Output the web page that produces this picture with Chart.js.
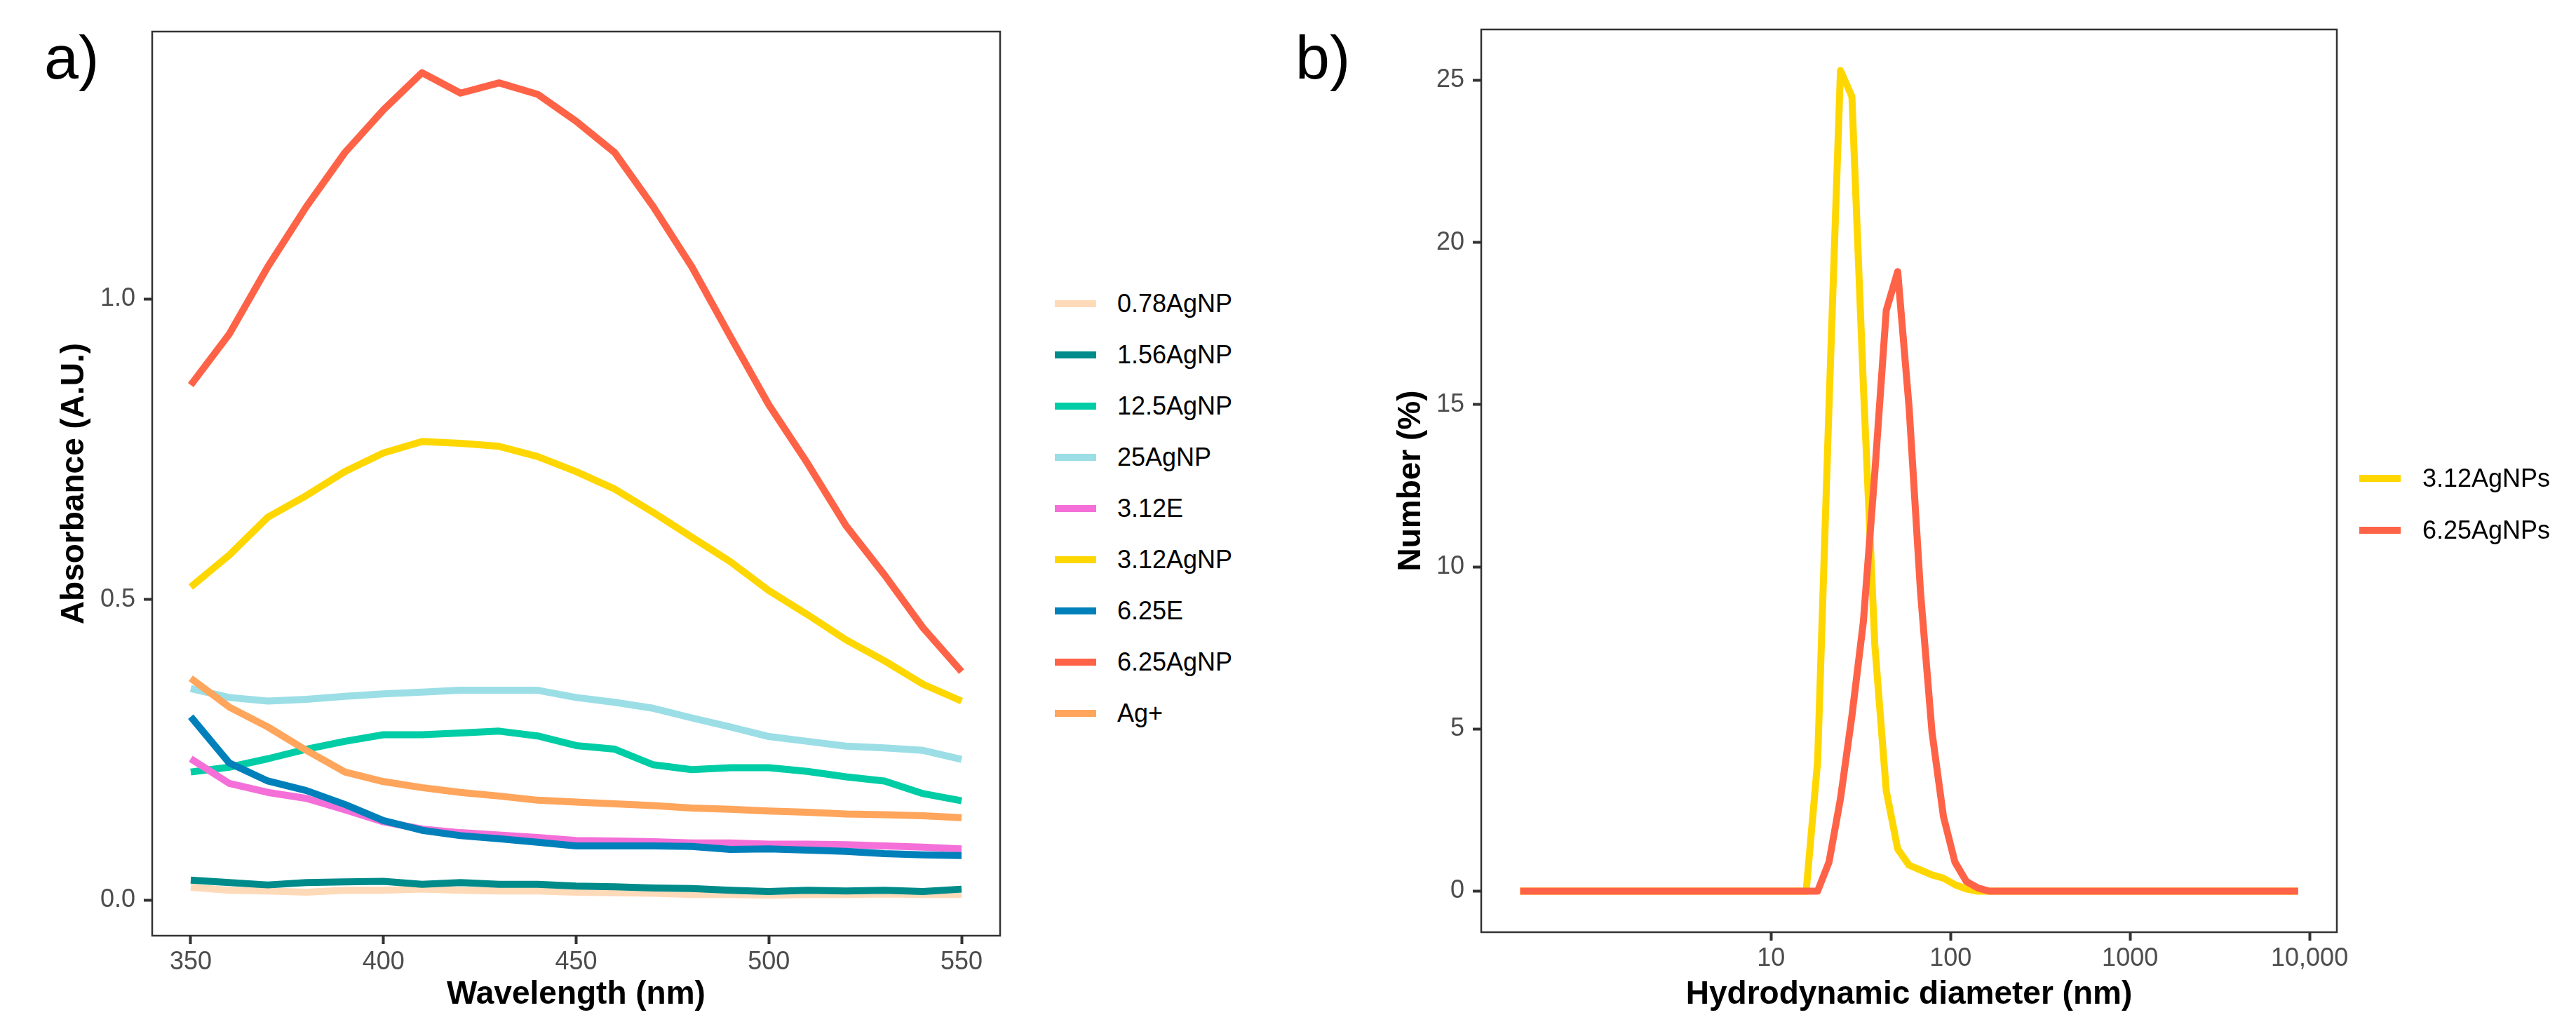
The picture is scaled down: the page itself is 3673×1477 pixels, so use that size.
<!DOCTYPE html>
<html>
<head>
<meta charset="utf-8">
<title>AgNP absorbance and DLS</title>
<script src="https://cdn.jsdelivr.net/npm/chart.js@4.4.0/dist/chart.umd.min.js"></script>
<style>
    body { margin: 0; background: #fff; }
    #page { position: relative; width: 3673px; height: 1477px; font-family: 'Liberation Sans', Arial, sans-serif; }
    canvas { position: absolute; top: 0; }
    .tag { position: absolute; top: 38px; font-size: 88px; line-height: 1; color: #000; }
    .legend-item { position: absolute; height: 0; white-space: nowrap; }
    .swatch { position: absolute; left: 0; top: -5px; width: 59px; height: 10px; }
    .legend-text { position: absolute; top: -20px; font-size: 36px; line-height: 40px; color: #000; }
</style>
</head>
<body>
<div id="page">
    <canvas id="uvChart" width="1480" height="1477" style="left:0"></canvas>
    <canvas id="dlsChart" width="1873" height="1477" style="left:1800px"></canvas>
    <div class="tag" style="left:63px">a)</div>
    <div class="tag" style="left:1847px">b)</div>
    <div id="uvLegend"></div>
    <div id="dlsLegend"></div>
</div>
<script>
// ---- Panel a: UV-vis absorbance ----
const wavelengths = [350, 360, 370, 380, 390, 400, 410, 420, 430, 440, 450,
                     460, 470, 480, 490, 500, 510, 520, 530, 540, 550];

const uvLabels = ['0.78AgNP', '1.56AgNP', '12.5AgNP', '25AgNP', '3.12E',
                  '3.12AgNP', '6.25E', '6.25AgNP', 'Ag+'];
const uvColors = ['#FFDAB9', '#008B8B', '#00CDA5', '#9BDEE6', '#F470D8',
                  '#FFD700', '#0080BA', '#FF6347', '#FFA55C'];

const abs078 = [0.021, 0.016, 0.015, 0.013, 0.016, 0.016, 0.018, 0.016, 0.015, 0.015, 0.013,
                0.012, 0.011, 0.009, 0.009, 0.008, 0.009, 0.009, 0.010, 0.009, 0.009];
const abs156 = [0.033, 0.029, 0.025, 0.029, 0.030, 0.031, 0.026, 0.029, 0.026, 0.026, 0.023,
                0.022, 0.020, 0.019, 0.016, 0.014, 0.016, 0.015, 0.016, 0.014, 0.018];
const abs125 = [0.213, 0.221, 0.235, 0.251, 0.264, 0.275, 0.275, 0.278, 0.281, 0.273, 0.257,
                0.251, 0.225, 0.217, 0.220, 0.220, 0.214, 0.205, 0.198, 0.177, 0.165];
const abs25 = [0.352, 0.337, 0.331, 0.334, 0.339, 0.343, 0.346, 0.349, 0.349, 0.349, 0.337,
               0.329, 0.319, 0.303, 0.288, 0.272, 0.264, 0.256, 0.253, 0.249, 0.234];
const abs312E = [0.235, 0.194, 0.179, 0.169, 0.150, 0.130, 0.118, 0.112, 0.108, 0.104, 0.099,
                 0.098, 0.097, 0.095, 0.095, 0.093, 0.093, 0.092, 0.090, 0.088, 0.085];
const abs312 = [0.521, 0.574, 0.637, 0.673, 0.713, 0.744, 0.763, 0.760, 0.755, 0.738, 0.713,
                0.684, 0.645, 0.604, 0.563, 0.515, 0.475, 0.433, 0.398, 0.359, 0.331];
const abs625E = [0.305, 0.228, 0.198, 0.182, 0.159, 0.132, 0.116, 0.107, 0.102, 0.096, 0.090,
                 0.090, 0.090, 0.089, 0.084, 0.085, 0.083, 0.081, 0.077, 0.075, 0.074];
const abs625 = [0.857, 0.942, 1.054, 1.154, 1.244, 1.315, 1.377, 1.343, 1.360, 1.341, 1.296,
                1.244, 1.154, 1.054, 0.938, 0.824, 0.727, 0.623, 0.541, 0.453, 0.380];
const absAg = [0.369, 0.321, 0.288, 0.249, 0.213, 0.197, 0.187, 0.179, 0.173, 0.166, 0.163,
               0.160, 0.157, 0.153, 0.151, 0.148, 0.146, 0.143, 0.142, 0.140, 0.137];

const uvSeries = [abs078, abs156, abs125, abs25, abs312E, abs312, abs625E, abs625, absAg];
const uvTicksX = [350, 400, 450, 500, 550];
const uvTicksY = [0, 0.5, 1.0];

// ---- Panel b: DLS number distribution ----
const dlsSizes = [0.4, 0.4632, 0.5365, 0.6213, 0.7195, 0.8332, 0.9649, 1.117, 1.294, 1.499,
                  1.736, 2.01, 2.328, 2.696, 3.122, 3.615, 4.187, 4.849, 5.615, 6.503,
                  7.531, 8.721, 10.1, 11.7, 13.54, 15.69, 18.17, 21.04, 24.36, 28.21,
                  32.67, 37.84, 43.82, 50.75, 58.77, 68.06, 78.82, 91.28, 105.7, 122.4,
                  141.8, 164.2, 190.1, 220.2, 255, 295.3, 342, 396.1, 458.7, 531.2,
                  615.1, 712.4, 825, 955.4, 1106, 1281, 1484, 1718, 1990, 2305,
                  2669, 3091, 3580, 4145, 4801, 5560, 6439, 7456, 8635];

const num312 = [0, 0, 0, 0, 0, 0, 0, 0, 0, 0,
                0, 0, 0, 0, 0, 0, 0, 0, 0, 0,
                0, 0, 0, 0, 0, 0, 4.0, 15.0, 25.3, 24.5,
                15.6, 7.6, 3.1, 1.3, 0.8, 0.65, 0.5, 0.4, 0.2, 0.07,
                0, 0, 0, 0, 0, 0, 0, 0, 0, 0,
                0, 0, 0, 0, 0, 0, 0, 0, 0, 0,
                0, 0, 0, 0, 0, 0, 0, 0, 0];
const num625 = [0, 0, 0, 0, 0, 0, 0, 0, 0, 0,
                0, 0, 0, 0, 0, 0, 0, 0, 0, 0,
                0, 0, 0, 0, 0, 0, 0, 0.9, 2.85, 5.4,
                8.3, 12.9, 17.9, 19.1, 14.9, 9.2, 4.9, 2.3, 0.9, 0.3,
                0.1, 0, 0, 0, 0, 0, 0, 0, 0, 0,
                0, 0, 0, 0, 0, 0, 0, 0, 0, 0,
                0, 0, 0, 0, 0, 0, 0, 0, 0];

const dlsLabels = ['3.12AgNPs', '6.25AgNPs'];
const dlsColors = ['#FFD700', '#FF6347'];
const dlsSeries = [num312, num625];
const dlsTicksX = [10, 100, 1000, 10000];
const dlsTicksY = [0, 5, 10, 15, 20, 25];

Chart.defaults.font.family = "'Liberation Sans', Arial, sans-serif";

// Box around the plotting panel, like the ggplot panel border
const panelBorder = {
    id: 'panelBorder',
    afterDraw(chart) {
        const { ctx, chartArea: a } = chart;
        ctx.save();
        ctx.strokeStyle = '#333333';
        ctx.lineWidth = 2.5;
        ctx.strokeRect(a.left, a.top, a.right - a.left, a.bottom - a.top);
        ctx.restore();
    }
};

function tickGrid() {
    return {
        display: true,
        drawOnChartArea: false,
        drawTicks: true,
        tickLength: 12,
        tickWidth: 4,
        tickColor: '#333333'
    };
}

function axisTitle(text, padding) {
    return {
        display: true,
        text: text,
        color: '#000000',
        font: { size: 46, weight: 'bold' },
        padding: padding
    };
}

function buildDatasets(xs, series, labels, colors) {
    return series.map((values, i) => ({
        label: labels[i],
        data: xs.map((x, j) => ({ x: x, y: values[j] })),
        borderColor: colors[i],
        backgroundColor: colors[i],
        borderWidth: 10,
        borderJoinStyle: 'round',
        borderCapStyle: 'butt',
        pointRadius: 0,
        tension: 0,
        fill: false,
        order: series.length - i   // later series on top, as in ggplot
    }));
}

function buildLegend(id, labels, colors, lineX, textX, firstY, step) {
    const box = document.getElementById(id);
    box.innerHTML = labels.map((label, i) => `
        <div class="legend-item" style="left:${lineX}px;top:${firstY + i * step}px;">
            <div class="swatch" style="background:${colors[i]};"></div>
            <div class="legend-text" style="left:${textX - lineX}px;">${label}</div>
        </div>
    `).join('');
}

function drawUvChart() {
    new Chart(document.getElementById('uvChart'), {
        type: 'line',
        data: { datasets: buildDatasets(wavelengths, uvSeries, uvLabels, uvColors) },
        options: {
            responsive: false,
            animation: false,
            devicePixelRatio: 1,
            layout: { padding: { left: 0, top: 45, right: 54, bottom: 0 } },
            plugins: { legend: { display: false }, tooltip: { enabled: false } },
            scales: {
                x: {
                    type: 'linear',
                    min: 340,
                    max: 560,
                    grid: tickGrid(),
                    border: { display: false },
                    ticks: { color: '#4D4D4D', font: { size: 36 }, padding: 4, maxRotation: 0,
                             callback: v => String(v) },
                    afterBuildTicks: s => { s.ticks = uvTicksX.map(v => ({ value: v })); },
                    afterFit: s => { s.height = 143; },
                    title: axisTitle('Wavelength (nm)', { top: 0, bottom: 31 })
                },
                y: {
                    type: 'linear',
                    min: -0.0595,
                    max: 1.4454,
                    grid: tickGrid(),
                    border: { display: false },
                    ticks: { color: '#4D4D4D', font: { size: 36 }, padding: 12,
                             callback: v => v.toFixed(1) },
                    afterBuildTicks: s => { s.ticks = uvTicksY.map(v => ({ value: v })); },
                    afterFit: s => { s.width = 217; },
                    title: axisTitle('Absorbance (A.U.)', { top: 79, bottom: 0 })
                }
            }
        },
        plugins: [panelBorder]
    });
}

function drawDlsChart() {
    new Chart(document.getElementById('dlsChart'), {
        type: 'line',
        data: { datasets: buildDatasets(dlsSizes, dlsSeries, dlsLabels, dlsColors) },
        options: {
            responsive: false,
            animation: false,
            devicePixelRatio: 1,
            layout: { padding: { left: 0, top: 42, right: 341, bottom: 0 } },
            plugins: { legend: { display: false }, tooltip: { enabled: false } },
            scales: {
                x: {
                    type: 'logarithmic',
                    min: 0.2428,
                    max: 14191,
                    grid: tickGrid(),
                    border: { display: false },
                    ticks: { color: '#4D4D4D', font: { size: 36 }, padding: 4, maxRotation: 0,
                             autoSkip: false,
                             callback: v => v >= 10000 ? v.toLocaleString('en-US') : String(v) },
                    afterBuildTicks: s => { s.ticks = dlsTicksX.map(v => ({ value: v, major: true })); },
                    afterFit: s => { s.height = 148; },
                    title: axisTitle('Hydrodynamic diameter (nm)', { top: 0, bottom: 31 })
                },
                y: {
                    type: 'linear',
                    min: -1.265,
                    max: 26.565,
                    grid: tickGrid(),
                    border: { display: false },
                    ticks: { color: '#4D4D4D', font: { size: 36 }, padding: 12,
                             callback: v => String(v) },
                    afterBuildTicks: s => { s.ticks = dlsTicksY.map(v => ({ value: v })); },
                    afterFit: s => { s.width = 312; },
                    title: axisTitle('Number (%)', { top: 185, bottom: 0 })
                }
            }
        },
        plugins: [panelBorder]
    });
}

drawUvChart();
drawDlsChart();
buildLegend('uvLegend', uvLabels, uvColors, 1504, 1593, 433, 73);
buildLegend('dlsLegend', dlsLabels, dlsColors, 3364, 3454, 682, 74);
</script>
</body>
</html>
